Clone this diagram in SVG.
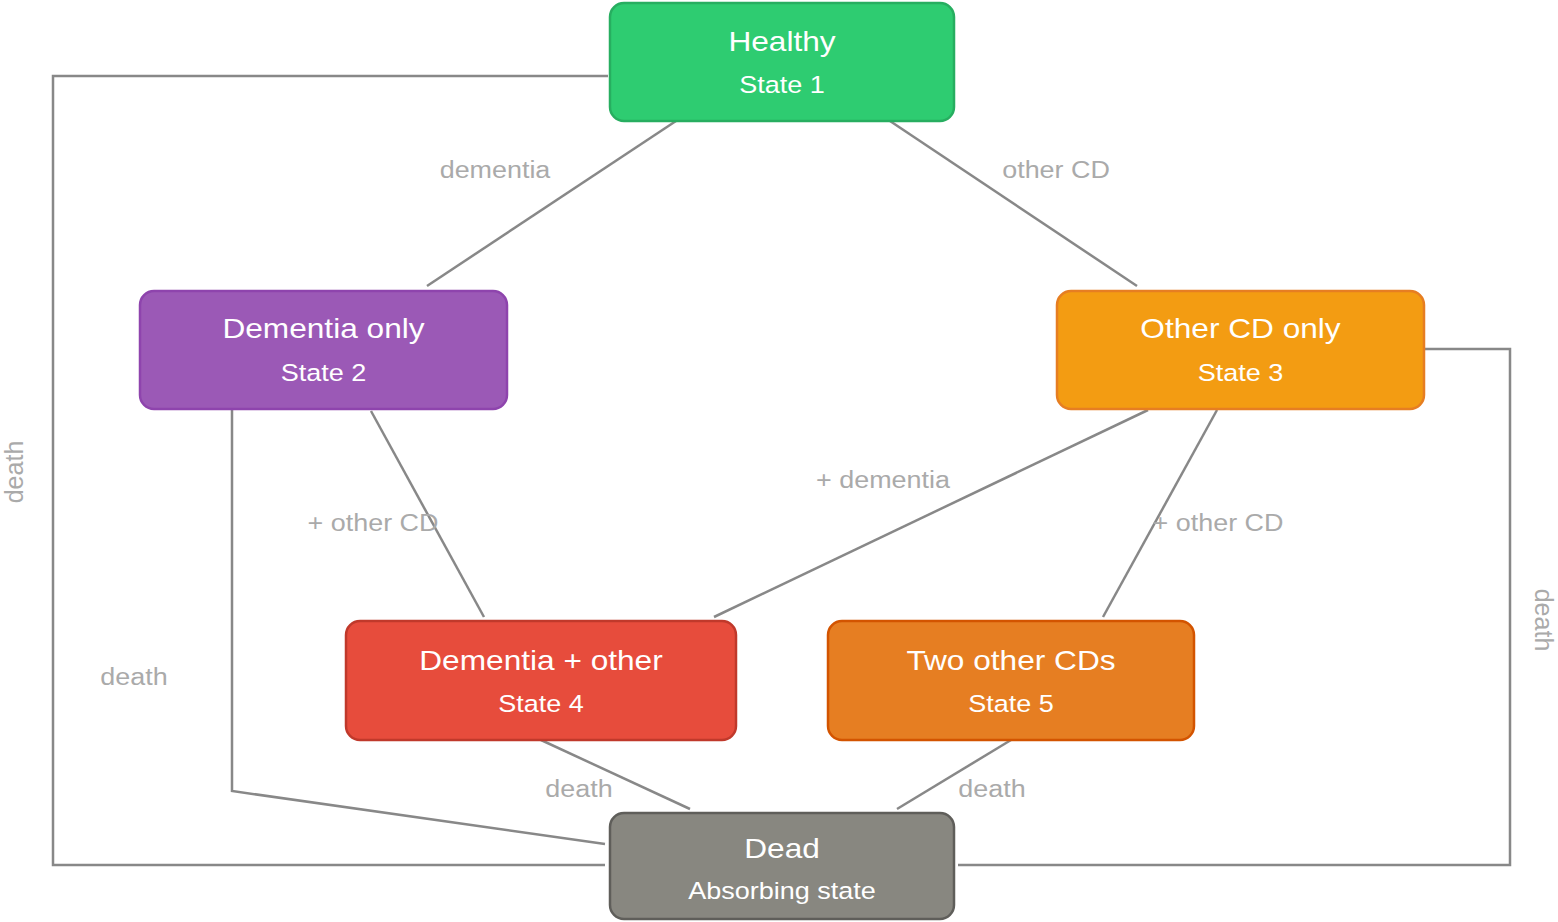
<svg xmlns="http://www.w3.org/2000/svg" width="1558" height="922" viewBox="0 0 1558 922">
<style>
.n{stroke-width:2.5}
.t{font-family:"Liberation Sans",Arial,sans-serif;font-size:28px;fill:#fff;text-anchor:middle}
.s{font-family:"Liberation Sans",Arial,sans-serif;font-size:23.5px;fill:#fff;text-anchor:middle}
.l{font-family:"Liberation Sans",Arial,sans-serif;font-size:23px;fill:#aaaaaa;text-anchor:middle}
.r{font-family:"Liberation Sans",Arial,sans-serif;font-size:25px;fill:#aaaaaa;text-anchor:middle}
.c{fill:none;stroke:#888888;stroke-width:2.5}
</style>
<rect width="1558" height="922" fill="#ffffff"/>
<g id="connectors">
<line class="c" x1="679" y1="119" x2="427" y2="286"/>
<line class="c" x1="887" y1="119" x2="1137" y2="286"/>
<line class="c" x1="371" y1="411" x2="484" y2="617"/>
<line class="c" x1="1148" y1="410" x2="714" y2="617"/>
<line class="c" x1="1217" y1="410" x2="1103" y2="617"/>
<line class="c" x1="541" y1="740" x2="690" y2="809"/>
<line class="c" x1="1011" y1="740" x2="897" y2="809"/>
<polyline class="c" points="232,410 232,791 605,844"/>
<polyline class="c" points="608,76 53,76 53,865 605,865"/>
<polyline class="c" points="1425,349 1510,349 1510,865 958,865"/>
<text class="l" transform="translate(495,178) scale(1.17,1)">dementia</text>
<text class="l" transform="translate(1056,178) scale(1.17,1)">other CD</text>
<text class="l" transform="translate(373,531) scale(1.17,1)">+ other CD</text>
<text class="l" transform="translate(883,488) scale(1.17,1)">+ dementia</text>
<text class="l" transform="translate(1218,531) scale(1.17,1)">+ other CD</text>
<text class="l" transform="translate(134,685) scale(1.17,1)">death</text>
<text class="l" transform="translate(579,797) scale(1.17,1)">death</text>
<text class="l" transform="translate(992,797) scale(1.17,1)">death</text>
<text class="r" transform="translate(23,472) rotate(-90)">death</text>
<text class="r" transform="translate(1535,620) rotate(90)">death</text>
</g>
<g id="healthy">
<rect class="n" x="610" y="3" width="344" height="118" rx="14" fill="#2ecc71" stroke="#27ae60"/>
<text class="t" transform="translate(782,51) scale(1.13,1)">Healthy</text>
<text class="s" transform="translate(782,93) scale(1.15,1)">State 1</text>
</g>
<g id="dementia-only">
<rect class="n" x="140" y="291" width="367" height="118" rx="14" fill="#9b59b6" stroke="#8e44ad"/>
<text class="t" transform="translate(323.5,338) scale(1.13,1)">Dementia only</text>
<text class="s" transform="translate(323.5,381) scale(1.15,1)">State 2</text>
</g>
<g id="other-cd-only">
<rect class="n" x="1057" y="291" width="367" height="118" rx="14" fill="#f39c12" stroke="#e67e22"/>
<text class="t" transform="translate(1240.5,338) scale(1.13,1)">Other CD only</text>
<text class="s" transform="translate(1240.5,381) scale(1.15,1)">State 3</text>
</g>
<g id="dementia-other">
<rect class="n" x="346" y="621" width="390" height="119" rx="14" fill="#e74c3c" stroke="#c0392b"/>
<text class="t" transform="translate(541,670) scale(1.13,1)">Dementia + other</text>
<text class="s" transform="translate(541,712) scale(1.15,1)">State 4</text>
</g>
<g id="two-other">
<rect class="n" x="828" y="621" width="366" height="119" rx="14" fill="#e67e22" stroke="#d35400"/>
<text class="t" transform="translate(1011,670) scale(1.13,1)">Two other CDs</text>
<text class="s" transform="translate(1011,712) scale(1.15,1)">State 5</text>
</g>
<g id="dead">
<rect class="n" x="610" y="813" width="344" height="106" rx="14" fill="#888780" stroke="#5f5e5a"/>
<text class="t" transform="translate(782,858) scale(1.13,1)">Dead</text>
<text class="s" transform="translate(782,899) scale(1.15,1)">Absorbing state</text>
</g>
</svg>
